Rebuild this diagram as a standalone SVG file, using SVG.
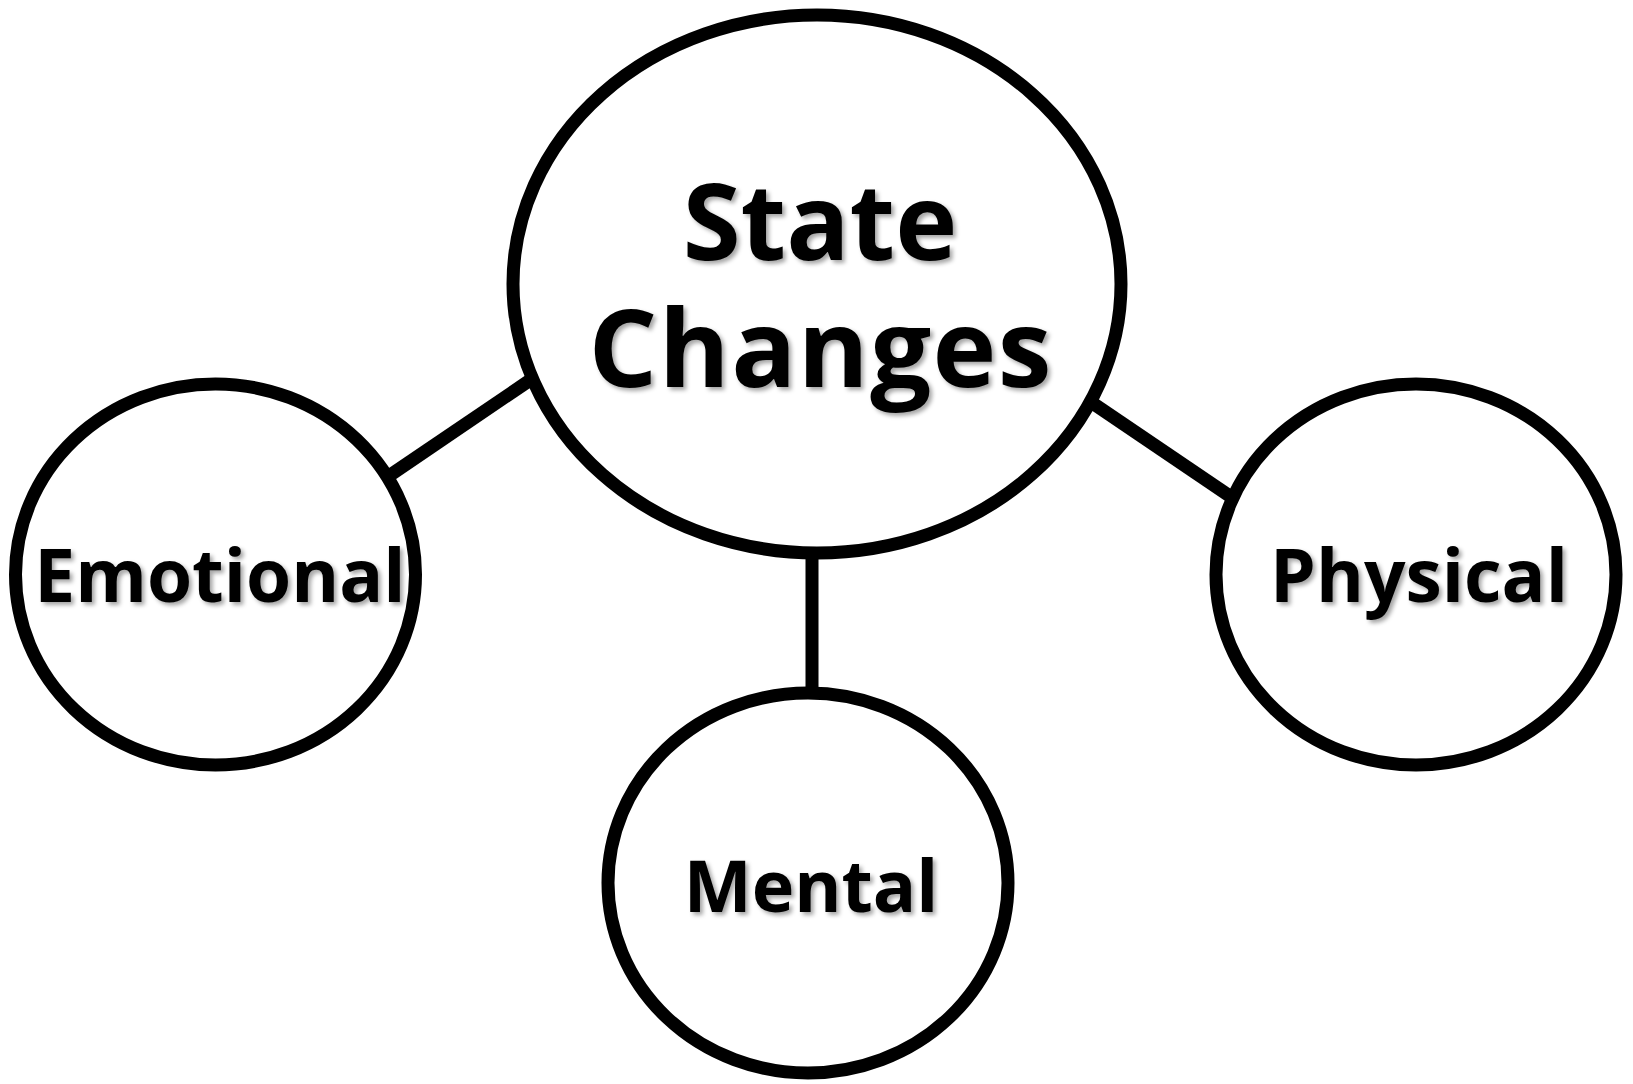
<svg xmlns="http://www.w3.org/2000/svg" width="1633" height="1084" viewBox="0 0 1633 1084">
<style>
.node{fill:#fff;stroke:#000;stroke-width:13}
.conn{stroke:#000;stroke-width:13;fill:none}
.lbl{font-family:"Open Sans","Liberation Sans",sans-serif;font-weight:bold;fill:#000;text-anchor:middle;filter:url(#sh)}
</style>
<defs>
<filter id="sh" x="-10%" y="-20%" width="120%" height="140%">
<feDropShadow dx="3" dy="3" stdDeviation="2" flood-color="#000" flood-opacity="0.35"/>
</filter>
</defs>
<rect width="1633" height="1084" fill="#fff"/>
<g id="connectors">
<line class="conn" x1="380" y1="482" x2="545" y2="370"/>
<line class="conn" x1="1088" y1="400" x2="1240" y2="503"/>
<line class="conn" x1="812" y1="540" x2="812" y2="705"/>
</g>
<g id="state-changes">
<ellipse class="node" cx="817" cy="284" rx="304" ry="269"/>
<text class="lbl" font-size="108"><tspan x="820" y="260" font-size="105">State</tspan><tspan x="820" y="387" textLength="463" lengthAdjust="spacing">Changes</tspan></text>
</g>
<g id="emotional">
<ellipse class="node" cx="215.5" cy="574.5" rx="200" ry="190.5"/>
<text class="lbl" x="220" y="602" font-size="73">Emotional</text>
</g>
<g id="physical">
<ellipse class="node" cx="1416" cy="574.5" rx="200" ry="190.5"/>
<text class="lbl" x="1419" y="602" font-size="73">Physical</text>
</g>
<g id="mental">
<ellipse class="node" cx="808" cy="883" rx="200" ry="190"/>
<text class="lbl" x="811" y="912" font-size="72">Mental</text>
</g>
</svg>
